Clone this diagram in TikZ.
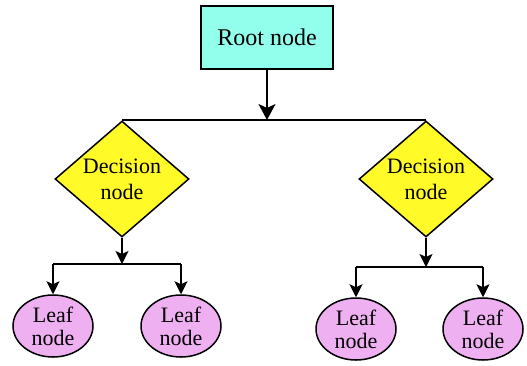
\documentclass[tikz,border=0pt]{standalone}
\usepackage{fontspec}
\setmainfont{Liberation Serif}
\usetikzlibrary{shapes.geometric,arrows.meta}
\definecolor{rootfill}{RGB}{145,255,236}
\definecolor{decfill}{RGB}{255,250,40}
\definecolor{leaffill}{RGB}{238,176,240}
\tikzset{
  rootbox/.style={draw=black, line width=1.6pt, fill=rootfill, minimum width=132pt, minimum height=63pt, inner sep=0pt, font=\fontsize{24}{28}\selectfont},
  decbox/.style={draw=black, line width=1.5pt, fill=decfill, diamond, shape aspect=1.155, minimum width=134pt, minimum height=116pt, inner sep=0pt, align=center, font=\fontsize{22}{26}\selectfont},
  leafbox/.style={draw=black, line width=1.5pt, fill=leaffill, ellipse, minimum width=80pt, minimum height=62pt, inner sep=0pt, align=center, font=\fontsize{22}{23}\selectfont},
  link/.style={draw=black, line width=1.8pt},
  bigarr/.style={link, -{Stealth[length=16pt, width=17pt, inset=4pt]}},
  smallarr/.style={link, -{Stealth[length=13pt, width=13pt, inset=3pt]}}
}
\begin{document}
\begin{tikzpicture}[x=1pt, y=-1pt]
\useasboundingbox (0,0) rectangle (527,365);
\node[rootbox] (root) at (267,37.5) {Root node};
\node[decbox] (d1) at (122,179) {Decision\\node};
\node[decbox] (d2) at (426,179) {Decision\\node};
\node[leafbox] (l1) at (53,326) {Leaf\\node};
\node[leafbox] (l2) at (181,326) {Leaf\\node};
\node[leafbox] (l3) at (356,329) {Leaf\\node};
\node[leafbox] (l4) at (483,329) {Leaf\\node};
\coordinate (j0) at (267,120);
\coordinate (j1) at (122,264);
\coordinate (j2) at (426,267);
\draw[bigarr] (root.south) -- (j0);
\draw[link] (d1.north) -- (d2.north);
\draw[smallarr] (d1.south) -- (j1);
\draw[link] (l1 |- j1) -- (l2 |- j1);
\draw[smallarr] (l1 |- j1) -- (l1.north);
\draw[smallarr] (l2 |- j1) -- (l2.north);
\draw[smallarr] (d2.south) -- (j2);
\draw[link] (l3 |- j2) -- (l4 |- j2);
\draw[smallarr] (l3 |- j2) -- (l3.north);
\draw[smallarr] (l4 |- j2) -- (l4.north);
\end{tikzpicture}
\end{document}
